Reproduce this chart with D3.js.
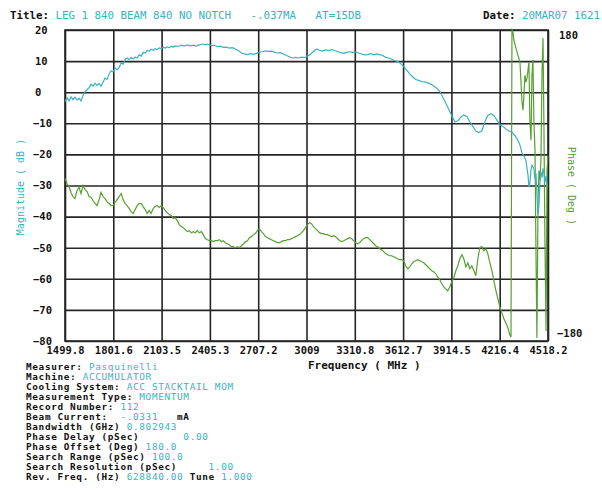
<!DOCTYPE html>
<html>
<head>
<meta charset="utf-8">
<script src="https://cdn.jsdelivr.net/npm/d3@7"></script>
<style>
body { margin: 0; background: #fff; }
svg text { font-family: "DejaVu Sans Mono", monospace; white-space: pre; }
.lbl { font-weight: bold; fill: #111; }
.val { fill: #3ab2c2; font-weight: normal; }
</style>
</head>
<body>
<svg id="chart" width="602" height="490"></svg>
<script>
/* network analyzer plot: magnitude (left) + phase (right) vs frequency
*/

var freqTicks = [1499.8, 1801.64, 2103.48, 2405.32, 2707.16, 3009.0, 3310.84, 3612.68, 3914.52, 4216.36, 4518.2]
var freqLabels = ['1499.8', '1801.6', '2103.5', '2405.3', '2707.2', '3009', '3310.8', '3612.7', '3914.5', '4216.4', '4518.2']
var magTicks = [20, 10, 0, -10, -20, -30, -40, -50, -60, -70, -80]
var phaseTicks = [180, -180]

// magnitude trace (dB)
var magFreq = [1500, 1512, 1525, 1537, 1550, 1562, 1575, 1588, 1600, 1613, 1625, 1638, 1650, 1663, 1675, 1688, 1700, 1713, 1725, 1738,
    1750, 1763, 1775, 1788, 1800, 1813, 1825, 1838, 1851, 1863, 1876, 1888, 1901, 1913, 1926, 1938, 1951, 1963, 1976, 1988,
    2001, 2013, 2026, 2038, 2051, 2063, 2076, 2089, 2101, 2114, 2126, 2139, 2151, 2164, 2176, 2189, 2208, 2226, 2245, 2264,
    2283, 2301, 2320, 2339, 2358, 2377, 2395, 2414, 2433, 2452, 2470, 2489, 2508, 2527, 2546, 2564, 2583, 2602, 2621, 2640,
    2658, 2677, 2696, 2715, 2733, 2752, 2771, 2790, 2809, 2827, 2846, 2865, 2884, 2903, 2921, 2940, 2959, 2978, 2996, 3015,
    3034, 3053, 3072, 3090, 3109, 3128, 3147, 3166, 3184, 3203, 3222, 3241, 3259, 3278, 3297, 3316, 3335, 3353, 3372, 3391,
    3410, 3428, 3447, 3466, 3485, 3504, 3522, 3541, 3560, 3579, 3598, 3616, 3635, 3654, 3673, 3692, 3710, 3729, 3748, 3767,
    3786, 3804, 3823, 3842, 3861, 3879, 3898, 3917, 3936, 3955, 3973, 3992, 4011, 4030, 4049, 4067, 4086, 4105, 4124, 4142,
    4161, 4180, 4199, 4217, 4236, 4255, 4274, 4293, 4312, 4330, 4343, 4355, 4368, 4380, 4393, 4399, 4405, 4412, 4418, 4430,
    4437, 4443, 4449, 4456, 4462, 4468, 4474, 4481, 4487, 4493, 4499, 4506, 4512, 4518]
var magDb = [-3.0, -1.8, -2.8, -1.5, -2.4, -1.6, -2.5, -2.0, -2.8, -1.0, 0.2, 0.8, 1.5, 2.6, 2.0, 2.9, 2.2, 2.8, 1.9, 3.3,
    4.5, 4.1, 5.8, 6.9, 6.5, 7.8, 7.2, 7.9, 9.5, 9.0, 10.6, 11.0, 10.5, 11.2, 10.7, 11.3, 11.0, 12.0, 11.6, 12.8,
    12.6, 13.4, 13.2, 13.8, 13.5, 14.0, 13.7, 14.2, 14.0, 14.5, 14.2, 14.6, 14.3, 14.8, 14.5, 14.9, 14.7, 15.1, 14.8, 15.2,
    14.9, 15.1, 14.8, 15.2, 15.5, 15.3, 15.4, 15.0, 15.1, 14.7, 14.8, 14.4, 14.5, 14.2, 14.3, 13.9, 13.4, 12.6, 12.3, 12.1,
    12.4, 12.2, 12.5, 12.9, 13.0, 13.3, 13.1, 13.2, 12.9, 12.6, 12.7, 12.3, 11.8, 11.4, 11.0, 11.2, 11.0, 11.3, 11.1, 11.6,
    12.2, 13.1, 13.9, 13.5, 13.2, 13.6, 13.4, 13.7, 13.4, 13.1, 12.7, 12.5, 12.8, 13.0, 12.8, 13.0, 12.6, 12.3, 12.0, 12.1,
    12.4, 12.0, 12.3, 12.1, 11.8, 11.2, 11.0, 10.6, 10.1, 9.9, 9.2, 8.3, 7.1, 5.9, 4.9, 4.1, 3.8, 3.4, 3.3, 3.0,
    2.6, 2.0, 1.3, 0.2, -1.6, -3.5, -5.5, -7.6, -9.5, -9.2, -8.0, -7.3, -7.8, -9.5, -11.0, -12.5, -13.0, -12.4, -9.5, -7.5,
    -6.9, -7.5, -9.0, -10.4, -11.0, -11.8, -12.5, -12.9, -14.0, -15.4, -17.0, -19.5, -20.5, -22.0, -26.5, -30.5, -29.0, -25.0, -23.5, -24.5,
    -28.0, -26.0, -33.0, -39.0, -36.0, -29.0, -25.5, -27.5, -24.5, -26.0, -29.0, -27.0, -30.0, -30.5]

// phase trace (deg)
var phaseFreq = [1500, 1512, 1525, 1537, 1550, 1562, 1575, 1588, 1600, 1613, 1625, 1638, 1650, 1663, 1675, 1688, 1700, 1713, 1725, 1738,
    1750, 1763, 1775, 1788, 1800, 1813, 1825, 1838, 1851, 1863, 1876, 1888, 1901, 1913, 1926, 1938, 1951, 1963, 1976, 1988,
    2001, 2013, 2026, 2038, 2051, 2063, 2076, 2089, 2101, 2114, 2126, 2139, 2151, 2164, 2176, 2189, 2201, 2214, 2226, 2239,
    2251, 2264, 2276, 2289, 2301, 2314, 2326, 2339, 2352, 2364, 2377, 2389, 2402, 2414, 2427, 2439, 2452, 2464, 2477, 2489,
    2502, 2514, 2527, 2539, 2552, 2564, 2577, 2589, 2602, 2615, 2627, 2640, 2652, 2665, 2677, 2690, 2702, 2715, 2727, 2740,
    2752, 2765, 2777, 2790, 2802, 2815, 2827, 2840, 2852, 2865, 2878, 2890, 2903, 2915, 2928, 2940, 2953, 2965, 2978, 2990,
    3003, 3015, 3028, 3040, 3053, 3065, 3078, 3090, 3103, 3115, 3128, 3141, 3153, 3166, 3178, 3191, 3203, 3216, 3228, 3241,
    3253, 3266, 3278, 3291, 3303, 3316, 3328, 3341, 3353, 3366, 3379, 3391, 3404, 3416, 3429, 3441, 3454, 3466, 3479, 3491,
    3504, 3516, 3529, 3541, 3554, 3566, 3579, 3591, 3604, 3616, 3629, 3642, 3654, 3667, 3679, 3692, 3704, 3717, 3729, 3742,
    3754, 3767, 3779, 3792, 3804, 3817, 3829, 3842, 3854, 3867, 3879, 3892, 3905, 3917, 3930, 3942, 3955, 3967, 3980, 3992,
    4005, 4017, 4030, 4042, 4055, 4067, 4080, 4092, 4105, 4117, 4130, 4142, 4155, 4168, 4180, 4193, 4205, 4218, 4230, 4243,
    4255, 4268, 4280, 4287, 4293, 4299, 4305, 4318, 4330, 4343, 4349, 4355, 4362, 4368, 4374, 4380, 4387, 4393, 4399, 4405,
    4412, 4418, 4424, 4430, 4437, 4443, 4449, 4456, 4462, 4468, 4474, 4481, 4487, 4493, 4499, 4506, 4512, 4518]
var phaseDeg = [8.1, 2.3, -1.2, -8.1, -12.8, -15.1, -5.8, -2.3, -9.3, 0, -4.6, -7.0, -12.8, -13.9, -17.4, -20.9, -23.2, -16.3, -8.1, -12.8,
    -15.1, -18.6, -20.9, -23.2, -23.2, -19.7, -16.3, -12.8, -9.3, -16.3, -20.9, -23.2, -26.7, -30.2, -32.5, -27.9, -23.2, -20.9, -20.9, -24.4,
    -27.9, -32.5, -29.0, -32.5, -26.7, -24.4, -23.2, -25.5, -23.2, -25.5, -29.0, -31.4, -33.7, -34.8, -38.3, -37.2, -40.6, -45.3, -47.6, -48.8,
    -51.1, -53.4, -52.3, -54.6, -53.4, -54.6, -52.3, -54.6, -53.4, -56.9, -61.5, -62.7, -63.9, -63.9, -65.0, -63.9, -63.9, -62.7, -65.0, -63.9,
    -66.2, -67.4, -68.5, -70.8, -70.8, -72.0, -70.8, -72.0, -69.7, -67.4, -65.0, -63.9, -60.4, -59.2, -56.9, -55.7, -52.3, -49.9, -53.4, -55.7,
    -59.2, -60.4, -61.5, -62.7, -63.9, -65.0, -66.2, -66.2, -65.0, -63.9, -63.9, -62.7, -62.7, -61.5, -60.4, -59.2, -58.1, -56.9, -54.6, -52.3,
    -48.8, -45.3, -43.0, -44.1, -47.6, -49.9, -52.3, -54.6, -55.7, -55.7, -56.9, -56.9, -58.1, -59.2, -58.1, -59.2, -61.5, -63.9, -65.0, -63.9,
    -62.7, -61.5, -60.4, -61.5, -63.9, -66.2, -67.4, -66.2, -63.9, -61.5, -60.4, -60.4, -62.7, -65.0, -67.4, -69.7, -70.8, -73.2, -74.3, -76.6,
    -79.0, -80.1, -81.3, -81.3, -82.5, -83.6, -84.8, -85.9, -85.9, -87.1, -92.9, -96.4, -94.1, -90.6, -88.3, -87.1, -85.9, -87.1, -88.3, -89.4,
    -91.7, -94.1, -96.4, -98.7, -99.9, -102.2, -105.7, -109.2, -113.8, -117.3, -119.6, -121.9, -117.3, -111.5, -106.8, -98.7, -92.9, -84.8, -80.1, -84.8,
    -94.1, -89.4, -96.4, -92.9, -98.7, -104.5, -84.8, -72.0, -70.8, -75.5, -73.2, -79.0, -89.4, -98.7, -110.3, -121.9, -131.2, -140.5, -147.5, -154.5,
    -159.1, -164.9, -173.0, -175.4, 180, 178, 168.4, 159.1, 151.0, 142.8, 121.9, 98.7, 87.1, 104.5, 127.7, 119.6, 124.3, 133.5, 142.8, 75.5,
    52.3, 127.7, 145.2, 75.5, 40.6, -75.5, -176.5, -17.4, 17.4, 5.8, 29.0, 133.5, 170.7, 63.9, -63.9, -168.4, 17.4, 34.8]

// header row: [text, isValue]
var titleRow = [['Title: ', 0], ['LEG 1 840 BEAM 840 NO NOTCH   -.037MA   AT=15DB', 1]]
var dateRow = [['Date: ', 0], ['20MAR07 1621', 1]]

// info block: [text, isValue]
var infoLines = [
    [['Measurer: ', 0], ['Pasquinelli', 1]],
    [['Machine: ', 0], ['ACCUMULATOR', 1]],
    [['Cooling System: ', 0], ['ACC STACKTAIL MOM', 1]],
    [['Measurement Type: ', 0], ['MOMENTUM', 1]],
    [['Record Number: ', 0], ['112', 1]],
    [['Beam Current:  ', 0], ['-.0331', 1], ['   mA', 0]],
    [['Bandwidth (GHz) ', 0], ['0.802943', 1]],
    [['Phase Delay (pSec)       ', 0], ['0.00', 1]],
    [['Phase Offset (Deg) ', 0], ['180.0', 1]],
    [['Search Range (pSec) ', 0], ['100.0', 1]],
    [['Search Resolution (pSec)     ', 0], ['1.00', 1]],
    [['Rev. Freq. (Hz) ', 0], ['628840.00', 1], [' Tune ', 0], ['1.000', 1]]
]

var plotL = 65, plotR = 548, plotT = 30, plotB = 341
var cyan = '#3ab2c2', green = '#55a030', gridCol = '#262626'

var svg = d3.select('#chart')

var x = d3.scaleLinear().domain([1499.8, 4518.2]).range([plotL, plotR])
var yMag = d3.scaleLinear().domain([-80, 20]).range([plotB, plotT])
var yPh = d3.scaleLinear().domain([-180, 180]).range([plotB, plotT])

// grid + ticks
var gx = svg.append('g')
    .attr('transform', 'translate(0,' + plotB + ')')
    .call(d3.axisBottom(x).tickValues(freqTicks).tickSize(-(plotB - plotT))
        .tickFormat(function(d, i) { return freqLabels[i] }))
gx.select('.domain').remove()
gx.selectAll('line').attr('stroke', gridCol).attr('stroke-width', 1.6)
gx.selectAll('text').attr('class', 'lbl').attr('font-size', 10.5).attr('y', 6).attr('dy', '0.71em')

var gy = svg.append('g')
    .attr('transform', 'translate(' + plotL + ',0)')
    .call(d3.axisLeft(yMag).tickValues(magTicks).tickSize(-(plotR - plotL)))
gy.select('.domain').remove()
gy.selectAll('line').attr('stroke', gridCol).attr('stroke-width', 1.6)
gy.selectAll('text').attr('class', 'lbl').attr('font-size', 10.5)
    .attr('text-anchor', 'start')
    .attr('x', function(d) { return d < 0 ? 33 - plotL : 35 - plotL })

var gp = svg.append('g')
    .attr('transform', 'translate(' + plotR + ',0)')
    .call(d3.axisRight(yPh).tickValues(phaseTicks).tickSize(0))
gp.select('.domain').remove()
gp.selectAll('text').attr('class', 'lbl').attr('font-size', 10.5)
    .attr('x', function(d) { return d < 0 ? 9 : 11 })
    .attr('dy', function(d) { return d < 0 ? '-0.45em' : '0.8em' })

svg.append('rect')
    .attr('x', plotL).attr('y', plotT)
    .attr('width', plotR - plotL).attr('height', plotB - plotT)
    .attr('fill', 'none').attr('stroke', gridCol).attr('stroke-width', 1.6)

// traces
var magLine = d3.line()
    .x(function(d, i) { return x(magFreq[i]) })
    .y(function(d) { return yMag(d) })
var phLine = d3.line()
    .x(function(d, i) { return x(phaseFreq[i]) })
    .y(function(d) { return yPh(d) })

svg.append('path').datum(phaseDeg)
    .attr('d', phLine).attr('fill', 'none')
    .attr('stroke', green).attr('stroke-width', 1.2)
svg.append('path').datum(magDb)
    .attr('d', magLine).attr('fill', 'none')
    .attr('stroke', cyan).attr('stroke-width', 1.2)

// axis titles
svg.append('text').attr('class', 'val').attr('font-size', 10)
    .attr('text-anchor', 'middle')
    .attr('transform', 'translate(24,187) rotate(-90)')
    .text('Magnitude ( dB )')
svg.append('text').attr('font-size', 10).attr('fill', green)
    .attr('text-anchor', 'middle')
    .attr('transform', 'translate(568,186) rotate(90)')
    .text('Phase ( Deg )')
svg.append('text').attr('class', 'lbl').attr('font-size', 11)
    .attr('x', 308).attr('y', 369)
    .text('Frequency ( MHz )')

function textRow(segs, px, py, size, spacing) {
    var t = svg.append('text').attr('x', px).attr('y', py)
        .attr('font-size', size).attr('letter-spacing', spacing || 0)
    segs.forEach(function(s) {
        t.append('tspan').attr('class', s[1] ? 'val' : 'lbl').text(s[0])
    })
}

textRow(titleRow, 10, 19, 10.8)
textRow(dateRow, 483, 19, 10.8)

infoLines.forEach(function(line, i) {
    textRow(line, 26, 370 + i * 10, 9.4, 0.65)
})
</script>
</body>
</html>
